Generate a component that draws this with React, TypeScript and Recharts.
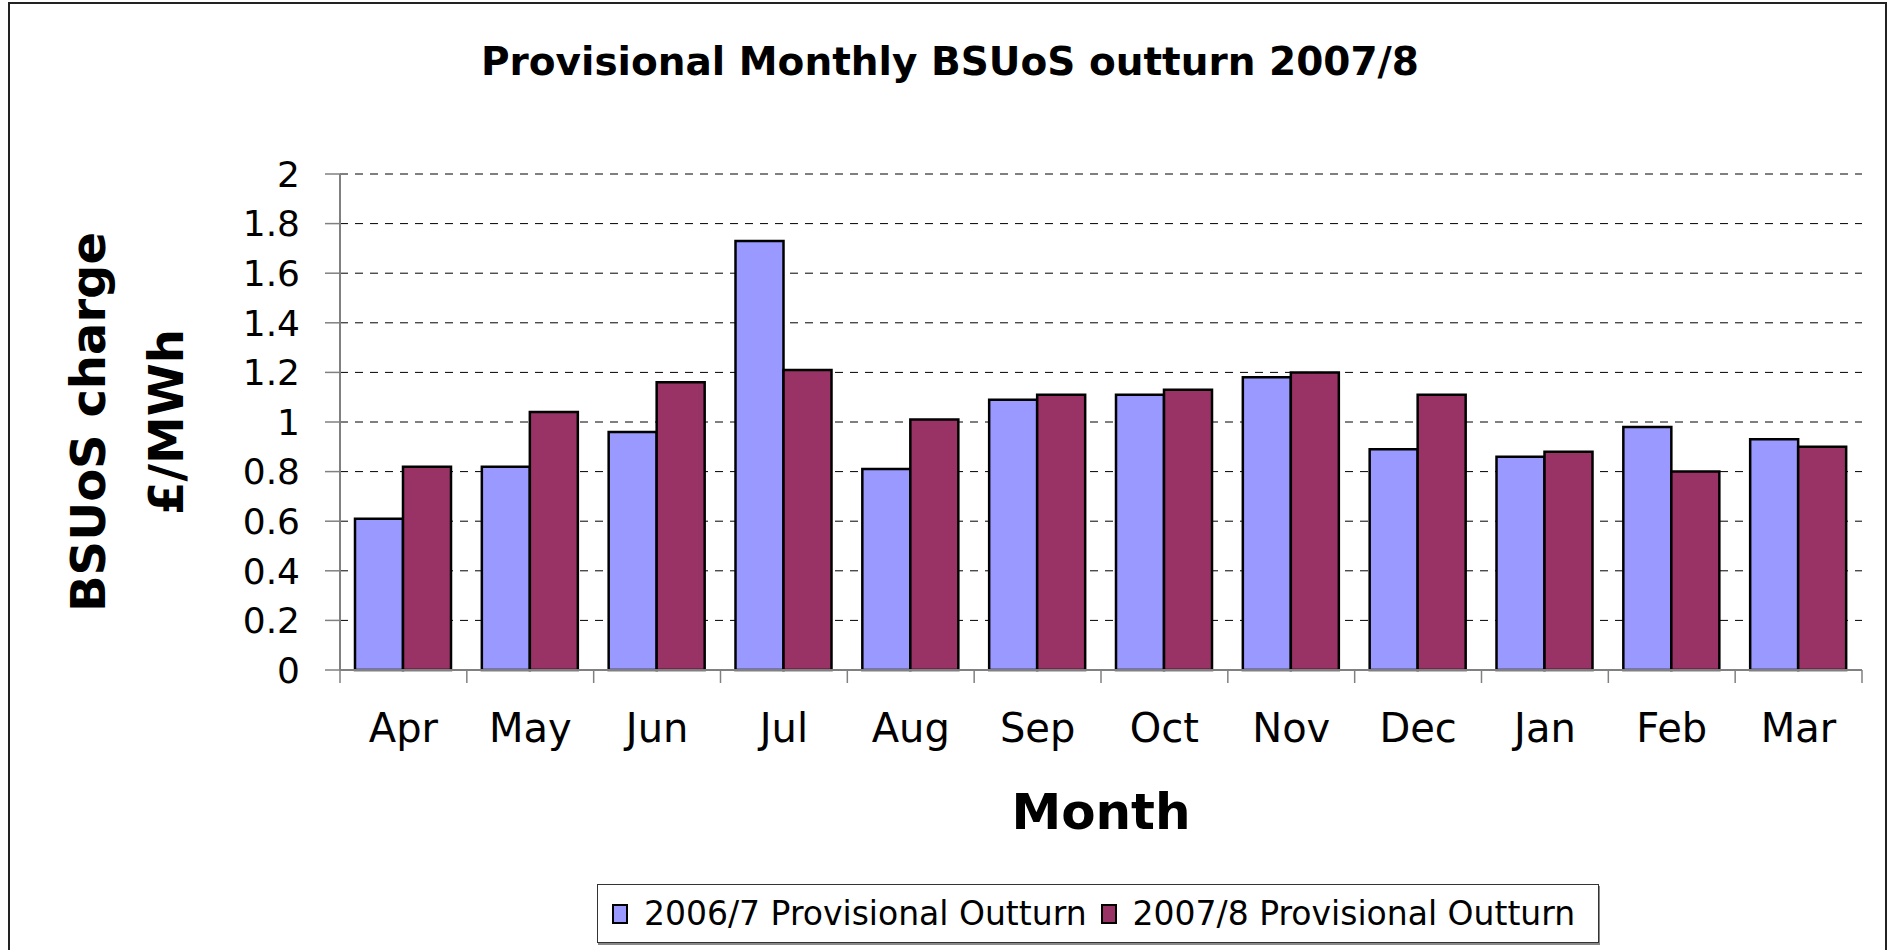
import React from 'react';
import { BarChart, Bar, XAxis, YAxis, CartesianGrid, Legend } from 'recharts';

const MONTHS = ['Apr', 'May', 'Jun', 'Jul', 'Aug', 'Sep', 'Oct', 'Nov', 'Dec', 'Jan', 'Feb', 'Mar'];
const OUTTURN_2006_7 = [0.61, 0.82, 0.96, 1.73, 0.81, 1.09, 1.11, 1.18, 0.89, 0.86, 0.98, 0.93];
const OUTTURN_2007_8 = [0.82, 1.04, 1.16, 1.21, 1.01, 1.11, 1.13, 1.2, 1.11, 0.88, 0.8, 0.9];
const Y_TICKS = [0, 0.2, 0.4, 0.6, 0.8, 1, 1.2, 1.4, 1.6, 1.8, 2];
const EDGE_TICKS = [0, 1, 2, 3, 4, 5, 6, 7, 8, 9, 10, 11, 12];
const SERIES_NAMES = ['2006/7 Provisional Outturn', '2007/8 Provisional Outturn'];
const TITLE = 'Provisional Monthly BSUoS outturn 2007/8';

const data = MONTHS.map((m, i) => ({ month: m, a: OUTTURN_2006_7[i], b: OUTTURN_2007_8[i] }));

// position of each category on a numeric axis running 0..12 (category centre)
const monthSlot = (d: any) => MONTHS.indexOf(d.month) + 0.5;

const FONT = '"DejaVu Sans", Arial, sans-serif';

const LegendContent = (props: any) => {
  const payload = props.payload || [];
  return (
    <div
      style={{
        boxSizing: 'border-box',
        width: '100%',
        height: '100%',
        border: '1px solid #333',
        boxShadow: '1px 2px 0 #888',
        background: '#fff',
        display: 'flex',
        alignItems: 'center',
        paddingLeft: 14,
        fontFamily: FONT,
        fontSize: 33,
        color: '#000',
        whiteSpace: 'nowrap',
      }}
    >
      {payload.map((p: any, i: number) => (
        <div key={i} style={{ display: 'flex', alignItems: 'center', marginRight: 14 }}>
          <div
            style={{
              boxSizing: 'border-box',
              width: 16,
              height: 20,
              background: p.color,
              border: '2px solid #000',
              marginRight: 16,
            }}
          />
          <span>{p.value}</span>
        </div>
      ))}
    </div>
  );
};

const YTitle = (props: any) => {
  const vb = props.viewBox || { x: 0, y: 0, width: 0, height: 0 };
  const cy = vb.y + vb.height / 2;
  return (
    <g>
      <text
        x={105}
        y={cy}
        transform={`rotate(-90, 105, ${cy})`}
        textAnchor="middle"
        style={{ fontFamily: FONT, fontWeight: 'bold', fontSize: 48, fill: '#000' }}
      >
        BSUoS charge
      </text>
      <text
        x={183}
        y={cy}
        transform={`rotate(-90, 183, ${cy})`}
        textAnchor="middle"
        style={{ fontFamily: FONT, fontWeight: 'bold', fontSize: 48, fill: '#000' }}
      >
        £/MWh
      </text>
    </g>
  );
};

const XTitle = (props: any) => {
  const vb = props.viewBox || { x: 0, y: 0, width: 0, height: 0 };
  return (
    <text
      x={vb.x + vb.width / 2}
      y={vb.y + 158}
      textAnchor="middle"
      style={{ fontFamily: FONT, fontWeight: 'bold', fontSize: 50, fill: '#000' }}
    >
      Month
    </text>
  );
};

const NoTick = () => <g />;

export default function App() {
  return (
    <div
      style={{
        position: 'absolute',
        left: 0,
        top: 0,
        width: 1892,
        height: 950,
        overflow: 'hidden',
        background: '#fff',
      }}
    >
      <div
        style={{
          position: 'absolute',
          left: 8,
          top: 2,
          width: 1879,
          height: 1000,
          border: '2px solid #222',
          boxSizing: 'border-box',
        }}
      />
      <div style={{ position: 'absolute', left: 0, top: 0 }}>
        <BarChart
          width={1892}
          height={950}
          data={data}
          margin={{ top: 174, right: 30, bottom: 0, left: 0 }}
          barCategoryGap={15}
          barGap={0}
        >
          <text
            x={950}
            y={75}
            textAnchor="middle"
            style={{ fontFamily: FONT, fontWeight: 'bold', fontSize: 39, fill: '#000' }}
          >
            {TITLE}
          </text>
          <CartesianGrid
            xAxisId="b"
            vertical={false}
            stroke="#000"
            strokeDasharray="8 7"
          />
          <XAxis
            xAxisId="a"
            type="number"
            dataKey={monthSlot}
            domain={[0, 12]}
            ticks={EDGE_TICKS}
            tick={NoTick}
            tickSize={13}
            height={1}
            axisLine={{ stroke: '#808080', strokeWidth: 2 }}
            tickLine={{ stroke: '#808080', strokeWidth: 1.5 }}
            allowDataOverflow
          />
          <XAxis
            xAxisId="b"
            dataKey="month"
            interval={0}
            axisLine={false}
            tickLine={false}
            tickSize={0}
            tickMargin={43}
            height={279}
            tick={{ fontFamily: FONT, fontSize: 40, fill: '#000' }}
            label={{ content: XTitle }}
          />
          <YAxis
            domain={[0, 2]}
            ticks={Y_TICKS}
            width={340}
            tickSize={15}
            tickMargin={25}
            axisLine={{ stroke: '#808080', strokeWidth: 2 }}
            tickLine={{ stroke: '#808080', strokeWidth: 1.5 }}
            tick={{ fontFamily: FONT, fontSize: 36, fill: '#000' }}
            label={{ content: YTitle }}
          />
          <Legend
            layout="vertical"
            align="center"
            verticalAlign="middle"
            wrapperStyle={{ left: 597, top: 884, width: 1002, height: 59 }}
            content={LegendContent}
          />
          <Bar
            xAxisId="b"
            dataKey="a"
            name={SERIES_NAMES[0]}
            fill="#9999FF"
            stroke="#000"
            strokeWidth={2.5}
            isAnimationActive={false}
          />
          <Bar
            xAxisId="b"
            dataKey="b"
            name={SERIES_NAMES[1]}
            fill="#993366"
            stroke="#000"
            strokeWidth={2.5}
            isAnimationActive={false}
          />
        </BarChart>
      </div>
    </div>
  );
}
